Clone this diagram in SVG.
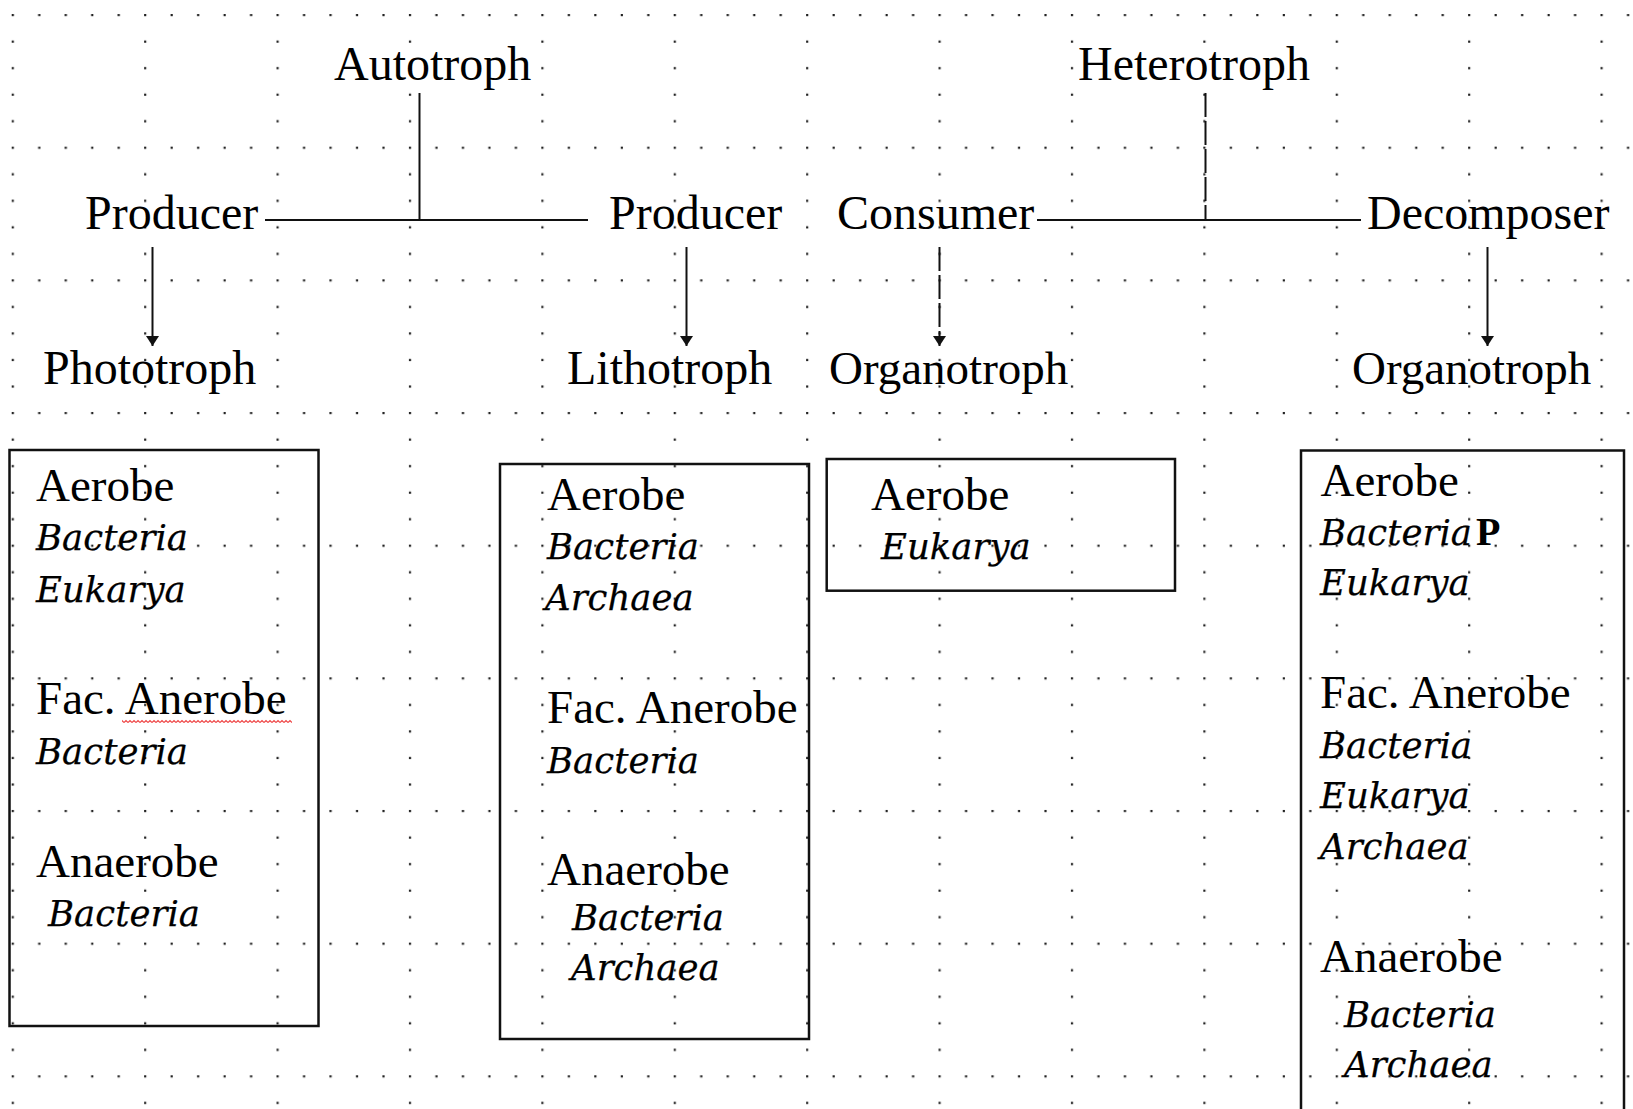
<svg xmlns="http://www.w3.org/2000/svg" width="1633" height="1109" viewBox="0 0 1633 1109">
<style>
.t{font-family:"Liberation Serif","Times New Roman",serif;font-size:48px;fill:#000}
.r{font-family:"Liberation Serif","Times New Roman",serif;font-size:47px;fill:#000}
.i{font-family:"DejaVu Serif",serif;font-style:italic;font-size:35.5px;fill:#000;stroke:#000;stroke-width:0.25}
.b{font-family:"Liberation Serif","Times New Roman",serif;font-weight:bold;font-size:40px;fill:#000}
.box{fill:none;stroke:#111;stroke-width:2.5}
.ln{fill:none;stroke:#111;stroke-width:2}
.dash{stroke-dasharray:24 4}
</style>
<defs>
<pattern id="grid" patternUnits="userSpaceOnUse" x="11.7" y="14" width="132.4" height="132.66">
<g fill="#222">
<rect x="0" y="0" width="2.2" height="2.2"/><rect x="26.48" y="0" width="2.2" height="2.2"/><rect x="52.96" y="0" width="2.2" height="2.2"/><rect x="79.44" y="0" width="2.2" height="2.2"/><rect x="105.92" y="0" width="2.2" height="2.2"/>
<rect x="0" y="26.53" width="2.2" height="2.2"/><rect x="0" y="53.06" width="2.2" height="2.2"/><rect x="0" y="79.6" width="2.2" height="2.2"/><rect x="0" y="106.13" width="2.2" height="2.2"/>
</g>
</pattern>
<pattern id="squig" patternUnits="userSpaceOnUse" x="0" y="719" width="4" height="5">
<path d="M0 3.5 L2 1.5 L4 3.5" fill="none" stroke="#e44" stroke-width="1.2"/>
</pattern>
<marker id="ah" viewBox="0 0 10 10" refX="10" refY="5" markerUnits="userSpaceOnUse" markerWidth="10" markerHeight="13" orient="auto" preserveAspectRatio="none">
<path d="M0 0 L10 5 L0 10 Z" fill="#111"/>
</marker>
</defs>
<rect width="1633" height="1109" fill="#fff"/>
<rect width="1633" height="1109" fill="url(#grid)"/>

<g id="connectors">
<line class="ln" x1="419.5" y1="93" x2="419.5" y2="220"/>
<line class="ln" x1="265" y1="220" x2="588" y2="220"/>
<line class="ln dash" x1="1205.5" y1="93" x2="1205.5" y2="220"/>
<line class="ln" x1="1037" y1="220" x2="1361" y2="220"/>
<line class="ln" x1="152.5" y1="247" x2="152.5" y2="346" marker-end="url(#ah)"/>
<line class="ln" x1="686.5" y1="247" x2="686.5" y2="346" marker-end="url(#ah)"/>
<line class="ln dash" x1="939.5" y1="247" x2="939.5" y2="346" marker-end="url(#ah)"/>
<line class="ln" x1="1487.5" y1="247" x2="1487.5" y2="346" marker-end="url(#ah)"/>
</g>

<g id="autotroph"><text class="t" x="334" y="80">Autotroph</text></g>
<g id="heterotroph"><text class="t" x="1078" y="80">Heterotroph</text></g>
<g id="producer1"><text class="t" x="85" y="229">Producer</text></g>
<g id="producer2"><text class="t" x="609" y="229">Producer</text></g>
<g id="consumer"><text class="t" x="837" y="229">Consumer</text></g>
<g id="decomposer"><text class="t" x="1367" y="229">Decomposer</text></g>
<g id="phototroph"><text class="t" x="43" y="384">Phototroph</text></g>
<g id="lithotroph"><text class="t" x="567" y="384">Lithotroph</text></g>
<g id="organotroph1"><text class="t" x="829" y="384" style="font-size:47px">Organotroph</text></g>
<g id="organotroph2"><text class="t" x="1352" y="384" style="font-size:47px">Organotroph</text></g>

<g id="box1">
<rect class="box" x="9.5" y="450" width="309" height="576"/>
<text class="r" x="36" y="501">Aerobe</text>
<text class="i" x="36" y="550">Bacteria</text>
<text class="i" x="36" y="602">Eukarya</text>
<text class="r" x="36" y="714">Fac. Anerobe</text>
<rect x="122" y="719" width="170" height="5" fill="url(#squig)"/>
<text class="i" x="36" y="764">Bacteria</text>
<text class="r" x="36" y="877">Anaerobe</text>
<text class="i" x="48" y="926">Bacteria</text>
</g>

<g id="box2">
<rect class="box" x="500" y="464" width="309" height="575"/>
<text class="r" x="547" y="510">Aerobe</text>
<text class="i" x="547" y="559">Bacteria</text>
<text class="i" x="545" y="610">Archaea</text>
<text class="r" x="547" y="723">Fac. Anerobe</text>
<text class="i" x="547" y="773">Bacteria</text>
<text class="r" x="547" y="885">Anaerobe</text>
<text class="i" x="572" y="930">Bacteria</text>
<text class="i" x="571" y="980">Archaea</text>
</g>

<g id="box3">
<rect class="box" x="826.7" y="459" width="348.3" height="131.7"/>
<text class="r" x="871" y="510">Aerobe</text>
<text class="i" x="881" y="559">Eukarya</text>
</g>

<g id="box4">
<rect class="box" x="1301" y="450.5" width="323" height="700"/>
<text class="r" x="1320.5" y="496">Aerobe</text>
<text class="i" x="1320" y="545">Bacteria</text>
<text class="b" x="1476" y="545">P</text>
<text class="i" x="1320" y="595">Eukarya</text>
<text class="r" x="1320" y="708">Fac. Anerobe</text>
<text class="i" x="1320" y="758">Bacteria</text>
<text class="i" x="1320" y="808">Eukarya</text>
<text class="i" x="1320" y="859">Archaea</text>
<text class="r" x="1320" y="972">Anaerobe</text>
<text class="i" x="1344" y="1027">Bacteria</text>
<text class="i" x="1344" y="1077">Archaea</text>
</g>
</svg>
